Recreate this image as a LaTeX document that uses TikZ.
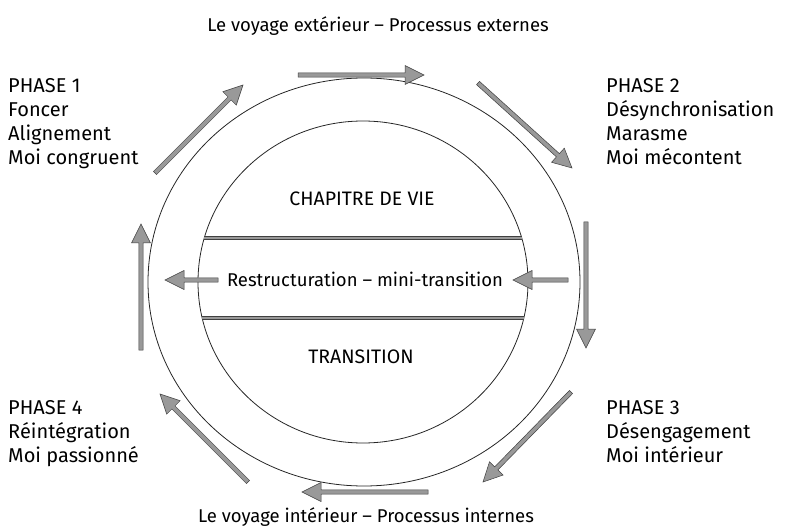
\documentclass[tikz,border=0pt]{standalone}
\usepackage{fontspec}
\setmainfont{Fira Sans}
\usepackage{tikz}
\usetikzlibrary{calc, shapes.geometric}
\tikzstyle{ring}=[ellipse, draw = black!85, line width = .8pt, inner sep = 0pt]
\tikzstyle{txt}=[inner sep = 0pt, font = \fontsize{18.5}{24}\selectfont]
\tikzstyle{caps}=[inner sep = 0pt, font = \fontsize{19.5}{24}\selectfont]
\tikzstyle{title}=[inner sep = 0pt, font = \fontsize{18.5}{24}\selectfont]
\tikzstyle{phase}=[inner sep = 0pt, align = left, anchor = north west, font = \fontsize{20}{24}\selectfont]
\tikzstyle{bar}=[draw = black!75, line width = .7pt, double = black!40, double distance = 2.4pt]
\tikzstyle{cyc}=[draw = black!75, fill = black!40, line width = .5pt,
  to path = {($(\tikztostart)!2.2pt!90:(\tikztotarget)$)
    -- ($($(\tikztotarget)!19pt!(\tikztostart)$)!2.2pt!-90:(\tikztostart)$)
    -- ($($(\tikztotarget)!19pt!(\tikztostart)$)!9.5pt!-90:(\tikztostart)$)
    -- (\tikztotarget)
    -- ($($(\tikztotarget)!19pt!(\tikztostart)$)!9.5pt!90:(\tikztostart)$)
    -- ($($(\tikztotarget)!19pt!(\tikztostart)$)!2.2pt!90:(\tikztostart)$)
    -- ($(\tikztostart)!2.2pt!-90:(\tikztotarget)$) -- cycle}]
\begin{document}
\begin{tikzpicture}[x = 1pt, y = -1pt]
\useasboundingbox (0, 0) rectangle (788, 532);
\node (outer) at (364, 282) [ring, minimum width = 432pt, minimum height = 408pt] {};
\node (inner) at (363, 282) [ring, minimum width = 330pt, minimum height = 322pt] {};
%%%%%%%%%%%%%%%%%%%%%%%
\node (ext) at (378, 26) [title] {Le voyage extérieur – Processus externes};
\node (int) at (366, 517) [title] {Le voyage intérieur – Processus internes};
\node (p1) at (8, 78) [phase] {PHASE 1\\Foncer\\Alignement\\Moi congruent};
\node (p2) at (606, 78) [phase] {PHASE 2\\Désynchronisation\\Marasme\\Moi mécontent};
\node (p3) at (606, 400) [phase] {PHASE 3\\Désengagement\\Moi intérieur};
\node (p4) at (8, 400) [phase] {PHASE 4\\Réintégration\\Moi passionné};
\node (vie) at (362, 199) [caps] {CHAPITRE DE VIE};
\node (tr) at (361, 357) [caps] {TRANSITION};
\node (restr) at (365, 279) [txt] {Restructuration – mini-transition};
%%%%%%%%%%%%%%%%%%%%%%%
\coordinate (b1l) at (204, 238);
\coordinate (b1r) at (522, 238);
\coordinate (b2l) at (202, 318);
\coordinate (b2r) at (524, 318);
\draw [bar] (b1l) to (b1r);
\draw [bar] (b2l) to (b2r);
%%%%%%%%%%%%%%%%%%%%%%%
\coordinate (t1) at (298, 75);   \coordinate (h1) at (424, 75);
\coordinate (t2) at (478, 83);   \coordinate (h2) at (572, 168);
\coordinate (t3) at (586, 222);  \coordinate (h3) at (586, 348);
\coordinate (t4) at (571, 392);  \coordinate (h4) at (483, 482);
\coordinate (t5) at (428, 492);  \coordinate (h5) at (302, 492);
\coordinate (t6) at (248, 482);  \coordinate (h6) at (160, 394);
\coordinate (t7) at (141, 350);  \coordinate (h7) at (141, 224);
\coordinate (t8) at (155, 173);  \coordinate (h8) at (243, 85);
\coordinate (tl) at (218, 280);  \coordinate (hl) at (165, 280);
\coordinate (tr') at (568, 280); \coordinate (hr) at (513, 280);
\draw [cyc] (t1) to (h1);
\draw [cyc] (t2) to (h2);
\draw [cyc] (t3) to (h3);
\draw [cyc] (t4) to (h4);
\draw [cyc] (t5) to (h5);
\draw [cyc] (t6) to (h6);
\draw [cyc] (t7) to (h7);
\draw [cyc] (t8) to (h8);
\draw [cyc] (tl) to (hl);
\draw [cyc] (tr') to (hr);
\end{tikzpicture}
\end{document}
